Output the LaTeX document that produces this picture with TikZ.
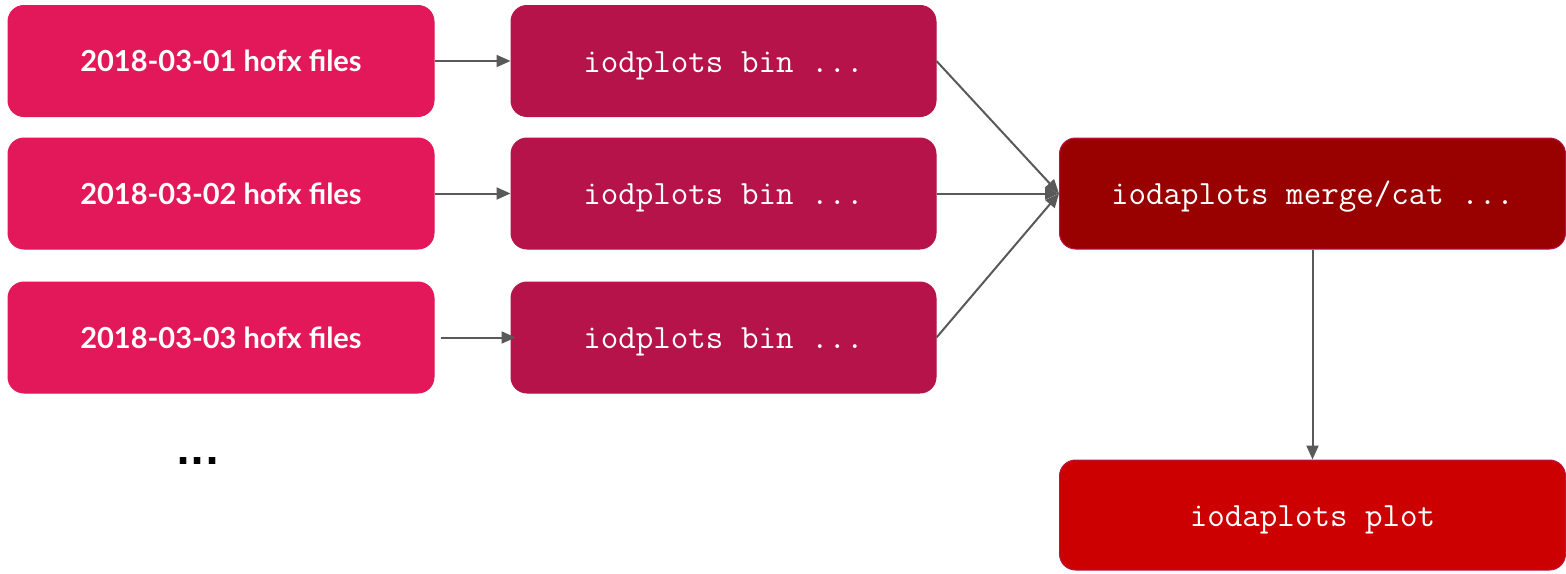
\documentclass[tikz,border=0pt]{standalone}
\usepackage{fontspec}
\setmainfont{Lato}
\newfontfamily\dotsfont{DejaVu Sans}
\usetikzlibrary{arrows.meta}
\definecolor{dayc}{HTML}{E2185B}
\definecolor{binc}{HTML}{B5134A}
\definecolor{mergec}{HTML}{990000}
\definecolor{plotc}{HTML}{CC0000}
\definecolor{edgec}{HTML}{B8144C}
\definecolor{arrc}{HTML}{595959}
\tikzset{
  box/.style={rounded corners=16pt, inner sep=0pt, text=white, line width=1pt},
  daybox/.style={box, fill=dayc, draw=dayc, minimum width=426pt, minimum height=111pt,
    font=\fontsize{29}{34}\selectfont\bfseries},
  mono/.style={font=\fontsize{34}{38}\selectfont\ttfamily, text height=30pt, text depth=8pt},
  binbox/.style={box, mono, fill=binc, draw=binc, minimum width=425pt, minimum height=111pt},
  mergebox/.style={box, mono, fill=mergec, draw=edgec, minimum width=506pt, minimum height=111pt},
  plotbox/.style={box, mono, fill=plotc, draw=edgec, minimum width=506pt, minimum height=110pt},
  arr/.style={draw=arrc, line width=2pt, -{Triangle[length=14pt,width=12pt]}},
}
\begin{document}
\begin{tikzpicture}[x=1pt,y=-1pt]
\path[use as bounding box] (0,0) rectangle (1566,573);
\node[daybox] (d1) at (221,61) {2018-03-01 hofx files};
\node[daybox] (d2) at (221,193.5) {2018-03-02 hofx files};
\node[daybox] (d3) at (221,337.5) {2018-03-03 hofx files};
\node[binbox] (b1) at (723.5,61) {iodplots bin ...};
\node[binbox] (b2) at (723.5,193.5) {iodplots bin ...};
\node[binbox] (b3) at (723.5,337.5) {iodplots bin ...};
\node[mergebox] (mg) at (1312.5,193.5) {iodaplots merge/cat ...};
\node[plotbox] (pl) at (1312.5,515) {iodaplots plot};
\node[font=\fontsize{37}{40}\selectfont\dotsfont\bfseries, inner sep=0pt] (dots) at (198,460.5) {...};
\draw[arr] (d1.east) -- (b1.west);
\draw[arr] (d2.east) -- (b2.west);
\draw[arr] ([xshift=6pt]d3.east) -- ([xshift=5pt]b3.west);
\draw[arr] (b1.east) -- (mg.west);
\draw[arr] (b2.east) -- (mg.west);
\draw[arr] (b3.east) -- (mg.west);
\draw[arr] (mg.south) -- (pl.north);
\end{tikzpicture}
\end{document}
